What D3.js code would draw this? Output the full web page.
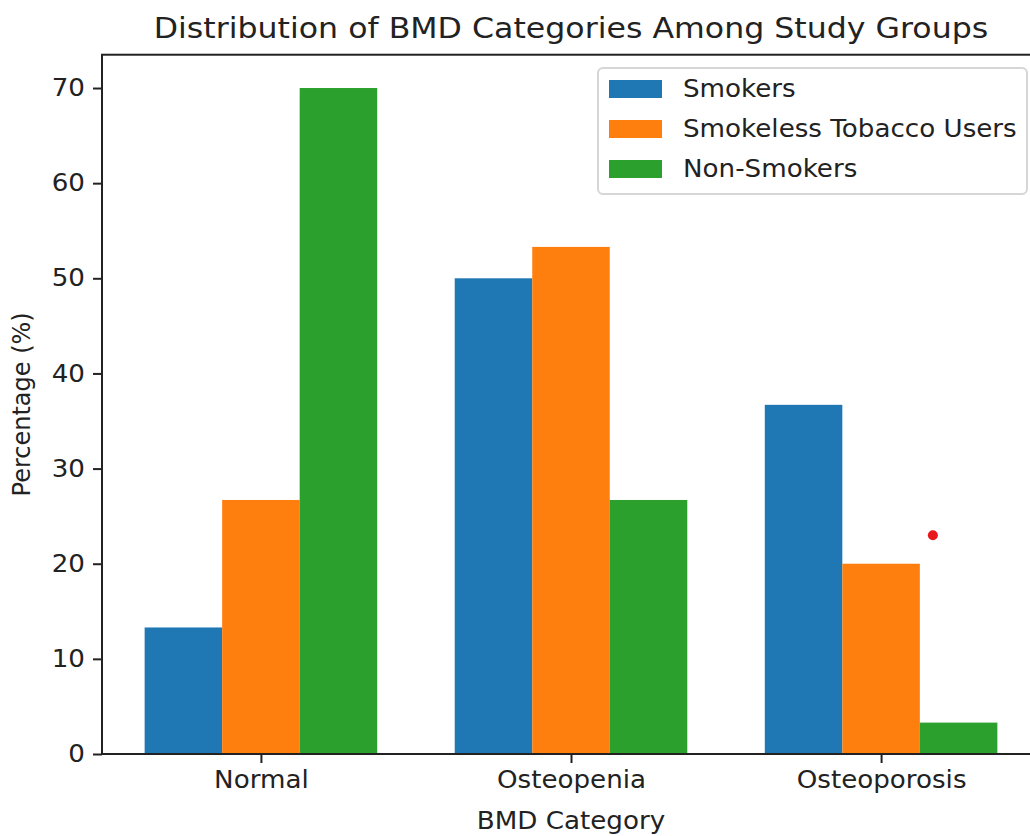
<!DOCTYPE html>
<html>
<head>
<meta charset="utf-8">
<script src="https://cdn.jsdelivr.net/npm/d3@7"></script>
<style>
  body { margin: 0; background: #fff; }
  text { font-family: "DejaVu Sans", sans-serif; fill: #222; }
  /* the reference is a little stretched sideways */
  .sx, .sxl, .sxr { transform-box: fill-box; transform: scaleX(1.09); }
  .sx { transform-origin: center; }
  .sxl { transform-origin: left center; }
  .sxr { transform-origin: right center; }
</style>
</head>
<body>
<div id="chart"></div>
<script>
// data
const categories = ["Normal", "Osteopenia", "Osteoporosis"];
const groups = ["Smokers", "Smokeless Tobacco Users", "Non-Smokers"];
const smokers = [13.3, 50.0, 36.7];
const smokeless = [26.7, 53.3, 20.0];
const nonSmokers = [70.0, 26.7, 3.3];
const yTicks = [0, 10, 20, 30, 40, 50, 60, 70];
const stray = [{ x: 2.167, y: 23.0 }]; // the lone red dot

const colors = ["#1f77b4", "#ff7f0e", "#2ca02c"];
const series = [smokers, smokeless, nonSmokers];

const width = 1030, height = 836;
const barW = 0.25;

const svg = d3.select("#chart").append("svg")
    .attr("width", width)
    .attr("height", height);

const x = d3.scaleLinear()
    .domain([-0.5125, categories.length - 1 + 0.5125])
    .range([102, 1040]);
const y = d3.scaleLinear()
    .domain([0, 73.5])
    .range([754, 754 - 73.5 * 9.514]);

// bars
series.forEach((vals, si) => {
    svg.append("g")
        .selectAll("rect")
        .data(vals)
        .join("rect")
        .attr("x", (d, i) => x(i + (si - 1) * barW - barW / 2))
        .attr("width", x(barW) - x(0))
        .attr("y", d => y(d))
        .attr("height", d => y(0) - y(d))
        .attr("fill", colors[si]);
});

svg.append("g")
    .selectAll("circle")
    .data(stray)
    .join("circle")
    .attr("cx", d => x(d.x))
    .attr("cy", d => y(d.y))
    .attr("r", 5)
    .attr("fill", "#e8191c");

// axes
const gy = svg.append("g")
    .attr("transform", `translate(${x.range()[0]},0)`)
    .call(d3.axisLeft(y).tickValues(yTicks).tickSize(9).tickPadding(8))
    .call(g => g.select(".domain").remove());
gy.selectAll("text").attr("class", "sxr").style("font-size", "24px").attr("fill", "#222");
gy.selectAll("line").attr("stroke", "#222").attr("stroke-width", 2);

const gx = svg.append("g")
    .attr("transform", `translate(0,${y(0)})`)
    .call(d3.axisBottom(x).tickValues(d3.range(categories.length))
        .tickFormat(i => categories[i]).tickSize(9).tickPadding(8))
    .call(g => g.select(".domain").remove());
gx.selectAll("text").attr("class", "sx").style("font-size", "24px").attr("fill", "#222");
gx.selectAll("line").attr("stroke", "#222").attr("stroke-width", 2);

// spines
const [x0, x1] = x.range();
const [yb, yt] = y.range();
svg.append("rect")
    .attr("x", x0).attr("y", yt)
    .attr("width", x1 - x0).attr("height", yb - yt)
    .attr("fill", "none").attr("stroke", "#222").attr("stroke-width", 2);

// labels
svg.append("text")
    .attr("class", "sx")
    .attr("x", (x0 + x1) / 2).attr("y", 38)
    .attr("text-anchor", "middle")
    .style("font-size", "29px")
    .text("Distribution of BMD Categories Among Study Groups");

svg.append("text")
    .attr("class", "sx")
    .attr("x", (x0 + x1) / 2).attr("y", 829)
    .attr("text-anchor", "middle")
    .style("font-size", "24px")
    .text("BMD Category");

svg.append("text")
    .attr("transform", `translate(30,${(yb + yt) / 2}) rotate(-90)`)
    .attr("text-anchor", "middle")
    .style("font-size", "24px")
    .text("Percentage (%)");

// legend
const lg = svg.append("g").attr("transform", "translate(598,68)");
lg.append("rect")
    .attr("width", 429).attr("height", 126)
    .attr("rx", 5)
    .attr("fill", "#fff").attr("fill-opacity", 0.8)
    .attr("stroke", "#d6d6d6").attr("stroke-width", 2);
const item = lg.selectAll("g.item")
    .data(groups)
    .join("g")
    .attr("class", "item")
    .attr("transform", (d, i) => `translate(0,${21 + i * 40})`);
item.append("rect")
    .attr("x", 11).attr("y", -9)
    .attr("width", 53).attr("height", 18)
    .attr("fill", (d, i) => colors[i]);
item.append("text")
    .attr("class", "sxl")
    .attr("x", 85).attr("dy", "0.35em")
    .style("font-size", "24px")
    .text(d => d);
</script>
</body>
</html>
